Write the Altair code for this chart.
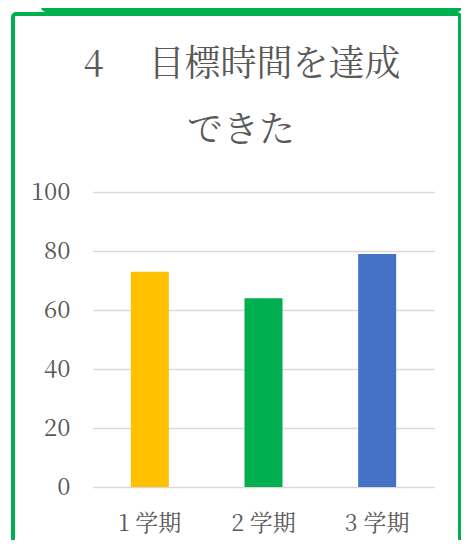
import altair as alt
import pandas as pd

terms = ["1 学期", "2 学期", "3 学期"]
values = [73, 64, 79]
colors = ["#FFC000", "#00B050", "#4472C4"]
title_lines = ["4 　目標時間を達成", "できた"]
y_ticks = [0, 20, 40, 60, 80, 100]

FONT = "Noto Serif CJK JP, Liberation Serif, Noto Sans CJK JP"
GRAY = "#595959"
GREEN = "#00B050"

df = pd.DataFrame({"term": terms, "value": values, "color": colors})
one = pd.DataFrame({"a": [0]})

bars = alt.Chart(df).mark_bar(size=38).encode(
    x=alt.X("term:N", sort=terms, title=None,
            axis=alt.Axis(labelAngle=0, labelFontSize=23, labelColor=GRAY, labelFont=FONT,
                          labelPadding=25, domain=False, ticks=False, grid=False)),
    y=alt.Y("value:Q", title=None, scale=alt.Scale(domain=[0, 100]),
            axis=alt.Axis(values=y_ticks, labelFontSize=24, labelColor=GRAY, labelFont=FONT,
                          labelPadding=23, domain=False, ticks=False, grid=True,
                          gridColor="#D9D9D9", gridWidth=1.6)),
    color=alt.Color("color:N", scale=None),
)

frame = alt.Chart(one).mark_rect(filled=False, stroke=GREEN, strokeWidth=4, cornerRadius=3).encode(
    x=alt.value(-80), x2=alt.value(367), y=alt.value(-178), y2=alt.value(380)
)
strip = alt.Chart(one).mark_rect(filled=False, stroke=GREEN, strokeWidth=4, cornerRadius=3).encode(
    x=alt.value(-50), x2=alt.value(367), y=alt.value(-240), y2=alt.value(-182)
)

title1 = alt.Chart(one).mark_text(text=title_lines[0], font=FONT, fontSize=36, color=GRAY,
                                  align="center", baseline="middle").encode(
    x=alt.value(149), y=alt.value(-127)
)
title2 = alt.Chart(one).mark_text(text=title_lines[1], font=FONT, fontSize=36, color=GRAY,
                                  align="center", baseline="middle").encode(
    x=alt.value(148), y=alt.value(-61)
)

chart = alt.layer(frame, strip, title1, title2, bars).properties(
    width=341, height=295,
    autosize=alt.AutoSizeParams(type="none"),
    padding={"left": 85, "top": 184, "right": 27, "bottom": 53},
).configure_view(stroke=None)

chart.save("out.html", embed_options={"renderer": "svg", "actions": False})
